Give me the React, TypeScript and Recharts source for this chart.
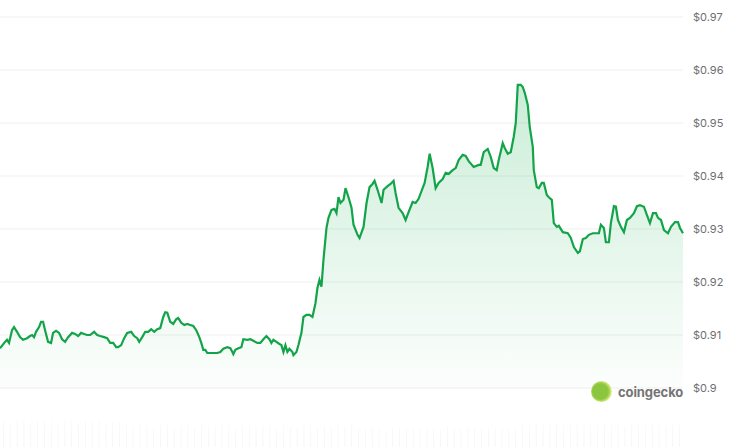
import React from 'react';
import { ComposedChart, Area, XAxis, YAxis, CartesianGrid, BarChart, Bar } from 'recharts';

// time offsets (arbitrary time steps across the 24h window)
const times = [
  0, 5, 7, 9, 12, 14, 17, 20, 23, 27, 30, 32, 34, 36, 39, 41, 43, 45, 48, 51,
  53, 56, 59, 62, 65, 68, 72, 75, 78, 81, 84, 87, 90, 94, 97, 100, 104, 107, 110, 113,
  116, 118, 121, 124, 127, 131, 134, 137, 139, 142, 145, 148, 151, 154, 157, 160, 163, 165, 167, 170,
  173, 176, 178, 181, 184, 187, 190, 193, 196, 199, 201, 203, 205, 207, 210, 213, 217, 220, 223, 227,
  230, 232, 233, 235, 238, 241, 243, 247, 250, 253, 257, 260, 263, 266, 269, 271, 273, 276, 279, 281,
  283, 285, 287, 289, 292, 293, 296, 298, 301, 303, 306, 309, 312, 315, 317, 319, 321, 323, 326, 328,
  331, 334, 336, 338, 340, 343, 345, 348, 351, 353, 357, 359, 363, 366, 369, 372, 374, 377, 381, 383,
  387, 390, 393, 395, 398, 402, 405, 408, 412, 415, 418, 422, 424, 427, 429, 432, 435, 438, 442, 445,
  448, 452, 455, 458, 462, 465, 468, 473, 478, 480, 483, 487, 490, 493, 496, 498, 502, 504, 507, 510,
  513, 515, 517, 520, 522, 524, 527, 529, 532, 533, 536, 538, 541, 543, 546, 548, 551, 553, 556, 558,
  562, 567, 570, 573, 577, 579, 582, 585, 588, 592, 595, 598, 600, 603, 605, 608, 610, 613, 615, 617,
  620, 623, 626, 629, 633, 636, 639, 643, 646, 649, 652, 655, 657, 660, 663, 667, 670, 674, 677, 679,
  682,
];

const prices = [
  0.9075, 0.9087, 0.9091, 0.9085, 0.9109, 0.9115, 0.9106, 0.9096, 0.9091, 0.9094, 0.9098, 0.91, 0.9096, 0.9106, 0.9115, 0.9125, 0.9125, 0.9109, 0.9087, 0.9085,
  0.9104, 0.9108, 0.9104, 0.9092, 0.9087, 0.9096, 0.9104, 0.9102, 0.9098, 0.9104, 0.9102, 0.91, 0.91, 0.9106, 0.91, 0.9098, 0.9096, 0.9094, 0.9085, 0.9085,
  0.9077, 0.9077, 0.9081, 0.9094, 0.9104, 0.9106, 0.9098, 0.9094, 0.9087, 0.9096, 0.9106, 0.9106, 0.9111, 0.9106, 0.9111, 0.9113, 0.9134, 0.9143, 0.9142, 0.9125,
  0.9121, 0.913, 0.9132, 0.9123, 0.9119, 0.9121, 0.9119, 0.9117, 0.9109, 0.9096, 0.9085, 0.9072, 0.9072, 0.9066, 0.9066, 0.9066, 0.9066, 0.9068, 0.9074, 0.9077,
  0.9075, 0.9068, 0.9064, 0.9072, 0.9075, 0.9077, 0.9092, 0.9091, 0.9092, 0.9089, 0.9085, 0.9085, 0.9092, 0.9098, 0.9092, 0.9085, 0.9091, 0.9087, 0.9083, 0.9081,
  0.9068, 0.9081, 0.9068, 0.9074, 0.9068, 0.9062, 0.9068, 0.9081, 0.9104, 0.9134, 0.9138, 0.9138, 0.9134, 0.916, 0.9189, 0.9204, 0.9191, 0.9242, 0.9302, 0.9321,
  0.9336, 0.9338, 0.933, 0.936, 0.9349, 0.9355, 0.9377, 0.936, 0.934, 0.9308, 0.9289, 0.9283, 0.9304, 0.9349, 0.9379, 0.9385, 0.9391, 0.9374, 0.9349, 0.9374,
  0.9381, 0.9385, 0.9391, 0.9368, 0.934, 0.933, 0.9317, 0.9332, 0.9351, 0.9349, 0.9357, 0.9377, 0.9387, 0.9417, 0.9442, 0.9415, 0.9377, 0.9387, 0.9394, 0.9406,
  0.9404, 0.9411, 0.9415, 0.943, 0.944, 0.9438, 0.9428, 0.9417, 0.9421, 0.9421, 0.9445, 0.9451, 0.9436, 0.9415, 0.9411, 0.943, 0.9462, 0.9453, 0.9442, 0.9445,
  0.9474, 0.95, 0.9572, 0.9572, 0.9568, 0.9557, 0.9534, 0.9492, 0.9455, 0.9411, 0.9379, 0.9377, 0.9387, 0.9387, 0.9364, 0.936, 0.9355, 0.9311, 0.9304, 0.9306,
  0.9294, 0.9292, 0.9283, 0.9266, 0.9255, 0.9258, 0.9281, 0.9283, 0.9289, 0.9292, 0.9292, 0.9292, 0.9308, 0.9302, 0.9275, 0.9275, 0.9311, 0.9343, 0.9342, 0.9317,
  0.9304, 0.9294, 0.9317, 0.9321, 0.933, 0.9343, 0.9345, 0.9342, 0.9326, 0.9311, 0.933, 0.933, 0.9321, 0.9317, 0.9298, 0.9292, 0.9304, 0.9313, 0.9313, 0.9302,
  0.9292,
];

const yTicks = [0.9, 0.91, 0.92, 0.93, 0.94, 0.95, 0.96, 0.97];

// faint volume strip at the bottom (relative units)
const volumes = [
  27, 25, 26, 27, 24, 26, 27, 25, 23, 26, 27, 24, 26, 25, 27, 24, 26, 25,
  22, 20, 23, 21, 19, 22, 23, 20, 21, 22, 19, 23, 21, 20, 22, 23, 19, 21, 22, 20, 23, 21, 19, 22, 20, 21, 23, 22, 19, 21, 20, 22, 21, 23,
  19, 18, 20, 19, 17, 19, 20, 18, 19, 20, 18, 19, 17, 20, 19, 18, 20, 19, 18, 19, 20, 18, 19, 20,
  23, 22, 24, 23, 21, 24, 22, 23, 24, 21, 23, 22, 24, 23, 22, 21, 24, 23, 22, 24, 23, 21, 22, 23,
];

const data = times.map((t, i) => ({ t, price: prices[i] }));
const volData = volumes.map((v, i) => ({ i, v }));

const GREEN = '#13a44a';

export default function App() {
  return (
    <div style={{ position: 'absolute', left: 0, top: 0, width: 749, height: 447, background: '#fff', fontFamily: 'Inter, "Noto Sans", sans-serif' }}>
      <div style={{ position: 'absolute', left: 0, top: 418 }}>
        <BarChart width={683} height={29} data={volData} margin={{ top: 0, right: 0, bottom: 0, left: 0 }} barCategoryGap="45%">
          <defs>
            <linearGradient id="volFill" x1="0" y1="0" x2="0" y2="1">
              <stop offset="0%" stopColor="#eef0f2" stopOpacity={0.5} />
              <stop offset="100%" stopColor="#eef0f2" stopOpacity={0.9} />
            </linearGradient>
          </defs>
          <XAxis dataKey="i" hide />
          <YAxis hide domain={[0, 29]} />
          <Bar dataKey="v" fill="url(#volFill)" isAnimationActive={false} />
        </BarChart>
      </div>
      <div style={{ position: 'absolute', left: 0, top: 0 }}>
        <ComposedChart width={749} height={447} data={data} margin={{ top: 17, right: 0, bottom: 59, left: 0 }}>
          <defs>
            <linearGradient id="priceFill" x1="0" y1="0" x2="0" y2="1">
              <stop offset="0%" stopColor="#00a83e" stopOpacity={0.34} />
              <stop offset="100%" stopColor="#00a83e" stopOpacity={0.02} />
            </linearGradient>
          </defs>
          <CartesianGrid vertical={false} stroke="#efefef" />
          <XAxis dataKey="t" type="number" domain={[0, 682]} hide />
          <YAxis
            orientation="right"
            width={66}
            domain={[0.9, 0.97]}
            ticks={yTicks}
            axisLine={false}
            tickLine={false}
            tickMargin={4}
            tick={{ fill: '#6f6f6f', fontSize: 11 }}
            tickFormatter={(v: number) => '$' + String(+v.toFixed(2))}
          />
          <Area
            type="linear"
            dataKey="price"
            stroke={GREEN}
            strokeWidth={2.2}
            fill="url(#priceFill)"
            isAnimationActive={false}
            dot={false}
            activeDot={false}
          />
        </ComposedChart>
      </div>
      <div style={{ position: 'absolute', left: 591, top: 381, display: 'flex', alignItems: 'center' }}>
        <div
          style={{
            width: 21,
            height: 21,
            borderRadius: '50%',
            background: 'radial-gradient(circle at 45% 50%, #8cc63f 0%, #8cc63f 50%, #e3f08f 72%, rgba(248,252,205,0.7) 100%)',
            marginRight: 6,
          }}
        />
        <span style={{ fontSize: 13, fontWeight: 700, color: '#757575', letterSpacing: -0.1 }}>coingecko</span>
      </div>
    </div>
  );
}
